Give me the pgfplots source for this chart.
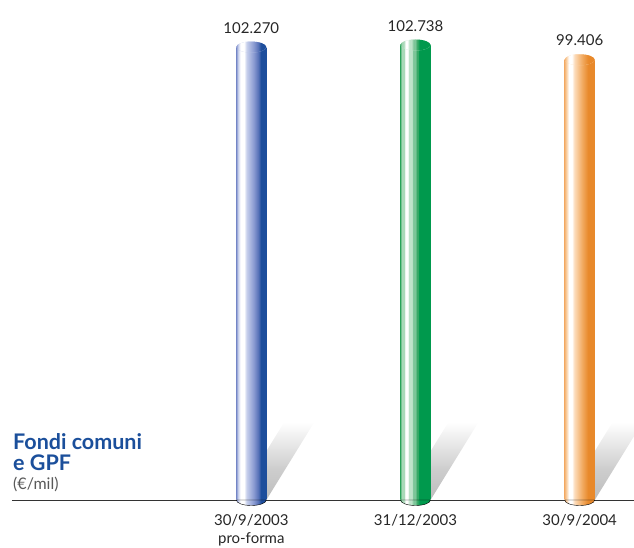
\documentclass[border=0pt]{standalone}
\usepackage{pgfplots}
\pgfplotsset{compat=1.18}
\usepackage{fontspec}
\setmainfont{Lato}

\definecolor{B1}{HTML}{7F8FCB}
\definecolor{B2}{HTML}{C8D0EC}
\definecolor{B3}{HTML}{8A9BD2}
\definecolor{B4}{HTML}{5570B6}
\definecolor{B5}{HTML}{1D4E9C}
\definecolor{BT}{HTML}{BCC6E8}
\definecolor{G1}{HTML}{4DB374}
\definecolor{G2}{HTML}{A9D9B8}
\definecolor{G3}{HTML}{BFE3CA}
\definecolor{G4}{HTML}{7CC598}
\definecolor{G5}{HTML}{37A866}
\definecolor{G6}{HTML}{00994D}
\definecolor{GT}{HTML}{C5E5D0}
\definecolor{O1}{HTML}{F4B475}
\definecolor{O2}{HTML}{FAD2A8}
\definecolor{O3}{HTML}{FCDDBD}
\definecolor{O4}{HTML}{F2AB62}
\definecolor{O5}{HTML}{E8892B}
\definecolor{OT}{HTML}{FDDDB9}
\definecolor{titleblue}{HTML}{1B4F9B}
\definecolor{SH}{HTML}{BDBDBD}

\pgfdeclarehorizontalshading{cylB}{100bp}{color(0bp)=(B1); color(25bp)=(B1); color(28bp)=(B2); color(32bp)=(white); color(38bp)=(white); color(42bp)=(B2); color(54bp)=(B3); color(62bp)=(B4); color(66bp)=(B5); color(100bp)=(B5)}
\pgfdeclarehorizontalshading{cylG}{100bp}{color(0bp)=(G1); color(25bp)=(G1); color(27bp)=(G2); color(31bp)=(G2); color(33bp)=(white); color(37bp)=(white); color(39bp)=(G3); color(44bp)=(G3); color(46bp)=(G4); color(50bp)=(G4); color(52bp)=(G5); color(54bp)=(G5); color(56bp)=(G6); color(100bp)=(G6)}
\pgfdeclarehorizontalshading{cylO}{100bp}{color(0bp)=(O1); color(25bp)=(O1); color(28bp)=(O2); color(32bp)=(white); color(37bp)=(white); color(41bp)=(O3); color(54bp)=(O4); color(64bp)=(O5); color(100bp)=(O5)}
\pgfdeclareverticalshading{shad}{100bp}{color(0bp)=(SH); color(25bp)=(SH); color(45bp)=(SH!75); color(75bp)=(white); color(100bp)=(white)}

\pgfdeclareplotmark{topB}{\fill[BT] (0pt,0pt) ellipse [x radius=15pt, y radius=5.5pt];}
\pgfdeclareplotmark{topG}{\fill[GT] (0pt,0pt) ellipse [x radius=15pt, y radius=5.5pt];}
\pgfdeclareplotmark{topO}{\fill[OT] (0pt,0pt) ellipse [x radius=15pt, y radius=5.5pt];}
\pgfdeclareplotmark{botB}{\shade[shading=cylB] (-15pt,0pt) arc[start angle=180, end angle=360, x radius=15pt, y radius=5.5pt] -- cycle;}
\pgfdeclareplotmark{botG}{\shade[shading=cylG] (-15pt,0pt) arc[start angle=180, end angle=360, x radius=15pt, y radius=5.5pt] -- cycle;}
\pgfdeclareplotmark{botO}{\shade[shading=cylO] (-15pt,0pt) arc[start angle=180, end angle=360, x radius=15pt, y radius=5.5pt] -- cycle;}

\begin{document}
\begin{tikzpicture}
\useasboundingbox (-12pt,-48pt) rectangle (622pt,500pt);
\begin{axis}[
  at={(0pt,0pt)}, anchor=south west,
  scale only axis, width=622pt, height=500pt,
  xmin=-1.4573, xmax=2.3354, ymin=0, ymax=112900,
  axis x line*=bottom, axis y line=none,
  x axis line style={draw=black!80, line width=0.9pt},
  xtick={0,1,2},
  xticklabels={{30/9/2003\\pro-forma},{31/12/2003},{30/9/2004}},
  ytick=\empty, scaled y ticks=false, scaled x ticks=false,
  major tick length=0pt,
  xticklabel style={align=center, font=\fontsize{15}{17.5}\selectfont, text=black!85, anchor=north, inner sep=0pt, yshift=-14.5pt},
  clip=false,
  every node near coord/.append style={font=\fontsize{15}{18}\selectfont, text=black!85, inner sep=0pt, yshift=13.5pt,
    /pgf/number format/.cd, fixed, precision=0, 1000 sep={.}, assume math mode=true},
]
% shadows
\addplot[draw=none, shade, shading=shad] coordinates {(-0.0915,0) (0.0915,0) (0.384,17600) (0.201,17600)} -- cycle;
\addplot[draw=none, shade, shading=shad] coordinates {(0.9085,0) (1.0915,0) (1.384,17600) (1.201,17600)} -- cycle;
\addplot[draw=none, shade, shading=shad] coordinates {(1.9085,0) (2.0915,0) (2.384,17600) (2.201,17600)} -- cycle;
% bottoms
\addplot[only marks, mark=botB] coordinates {(0,0)};
\addplot[only marks, mark=botG] coordinates {(1,0)};
\addplot[only marks, mark=botO] coordinates {(2,0)};
% bars
\addplot[ybar, bar width=30pt, bar shift=0pt, draw=none, shade, shading=cylB, mark=topB, nodes near coords] coordinates {(0,102270)};
\addplot[ybar, bar width=30pt, bar shift=0pt, draw=none, shade, shading=cylG, mark=topG, nodes near coords] coordinates {(1,102738)};
\addplot[ybar, bar width=30pt, bar shift=0pt, draw=none, shade, shading=cylO, mark=topO, nodes near coords] coordinates {(2,99406)};
\end{axis}
\node[anchor=base west, inner sep=0pt, text=titleblue, font=\fontsize{21.5}{22}\selectfont\bfseries] at (1pt,50pt) {Fondi comuni};
\node[anchor=base west, inner sep=0pt, text=titleblue, font=\fontsize{21.5}{22}\selectfont\bfseries] at (1pt,29pt) {e GPF};
\node[anchor=base west, inner sep=0pt, text=black!65, font=\fontsize{16}{18}\selectfont] at (1pt,10pt) {(€/mil)};
\end{tikzpicture}
\end{document}
